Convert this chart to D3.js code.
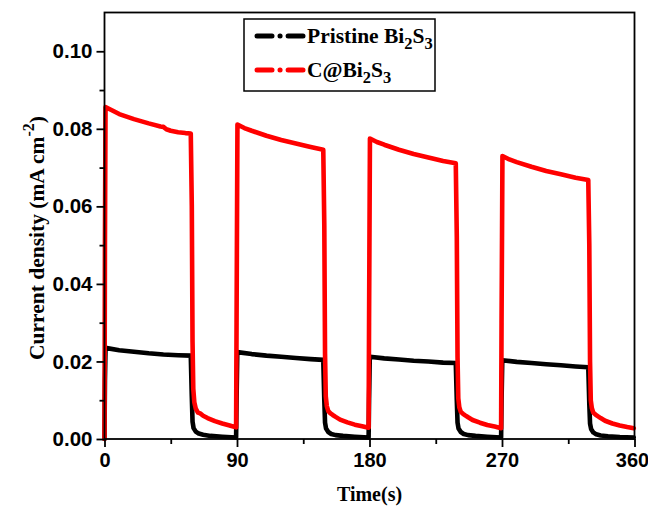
<!DOCTYPE html>
<html>
<head>
<meta charset="utf-8">
<script src="https://cdn.jsdelivr.net/npm/d3@7/dist/d3.min.js"></script>
<style>
  html, body { margin: 0; padding: 0; background: #fff; }
  svg { display: block; font-family: "Liberation Serif", "Times New Roman", serif; font-weight: bold; }
</style>
</head>
<body>
<svg id="chart" width="648" height="506"></svg>
<script>
// Photocurrent response, light on/off cycles (60 s on, 30 s off)
const seriesNames = ["Pristine Bi2S3", "C@Bi2S3"];
const seriesColors = ["#000000", "#ff0000"];

const xTicks = [0, 90, 180, 270, 360];
const yTicks = [0.00, 0.02, 0.04, 0.06, 0.08, 0.10];

// time (s)
const pristineTime = [
  0, 0.3, 0.7, 10, 20, 30, 40, 50, 58.6, 59.3, 59.8, 60.5, 62, 64, 67, 72, 80, 89.4,
  89.7, 90.2, 100, 110, 120, 130, 140, 148.6, 149.3, 149.8, 150.5, 152, 154, 157, 162, 170, 179.4,
  179.7, 180.2, 190, 200, 210, 220, 230, 238.6, 239.3, 239.8, 240.5, 242, 244, 247, 252, 260, 269.4,
  269.7, 270.2, 280, 290, 300, 310, 320, 328.6, 329.3, 329.8, 330.5, 332, 334, 337, 342, 350, 359.5
];
// current density (mA cm^-2)
const pristineValue = [
  0, 0.015, 0.0235, 0.0229, 0.0225, 0.0221, 0.0218, 0.0216, 0.0215, 0.011, 0.0045, 0.0028, 0.0019, 0.0014, 0.0011, 0.0008, 0.0006, 0.0004,
  0.010, 0.0224, 0.0219, 0.0215, 0.0212, 0.0209, 0.0206, 0.0204, 0.010, 0.0042, 0.0027, 0.0018, 0.0013, 0.0010, 0.0008, 0.0006, 0.0004,
  0.010, 0.0212, 0.0208, 0.0205, 0.0202, 0.0200, 0.0197, 0.0196, 0.010, 0.0042, 0.0027, 0.0018, 0.0013, 0.0010, 0.0008, 0.0006, 0.0004,
  0.010, 0.0203, 0.0199, 0.0196, 0.0193, 0.0190, 0.0187, 0.0185, 0.009, 0.0040, 0.0026, 0.0017, 0.0012, 0.0009, 0.0007, 0.0005, 0.0004
];

const carbonTime = [
  0, 0.3, 0.7, 5, 10, 20, 30, 38, 40, 42, 45, 50, 55, 58.6, 59.3, 59.8, 60.3, 61, 62, 63.5, 65, 67, 70, 75, 80, 85, 89.4,
  89.7, 90.3, 95, 100, 110, 120, 130, 140, 148.6, 149.3, 149.8, 150.3, 151, 152, 153.5, 155, 157, 160, 165, 170, 175, 179.4,
  179.7, 180.3, 185, 190, 200, 210, 220, 230, 238.6, 239.3, 239.8, 240.3, 241, 242, 243.5, 245, 247, 250, 255, 260, 265, 269.4,
  269.7, 270.3, 275, 280, 290, 300, 310, 320, 328.6, 329.3, 329.8, 330.3, 331, 332, 333.5, 335, 337, 340, 345, 350, 355, 359.5
];
const carbonValue = [
  0, 0.050, 0.0856, 0.0848, 0.0838, 0.0825, 0.0814, 0.0806, 0.0805, 0.0799, 0.0795, 0.0791, 0.0789, 0.0788, 0.060, 0.025, 0.0130, 0.0095, 0.0078, 0.0068, 0.0066, 0.0060, 0.0054, 0.0046, 0.0040, 0.0035, 0.0030,
  0.030, 0.0811, 0.0802, 0.0795, 0.0782, 0.0771, 0.0762, 0.0753, 0.0746, 0.055, 0.022, 0.0110, 0.0085, 0.0072, 0.0066, 0.0062, 0.0057, 0.0050, 0.0043, 0.0037, 0.0033, 0.0029,
  0.030, 0.0775, 0.0766, 0.0759, 0.0746, 0.0735, 0.0726, 0.0717, 0.0711, 0.052, 0.021, 0.0105, 0.0082, 0.0070, 0.0065, 0.0061, 0.0056, 0.0049, 0.0042, 0.0036, 0.0032, 0.0028,
  0.030, 0.0730, 0.0721, 0.0714, 0.0702, 0.0691, 0.0683, 0.0674, 0.0668, 0.050, 0.020, 0.0100, 0.0080, 0.0068, 0.0063, 0.0059, 0.0054, 0.0047, 0.0040, 0.0035, 0.0031, 0.0028
];

const svg = d3.select("#chart");
const margin = { left: 104.5, right: 634.5, top: 12.5, bottom: 439 };

const x = d3.scaleLinear().domain([0, 360]).range([margin.left, margin.right]);
const y = d3.scaleLinear().domain([0, 0.11]).range([margin.bottom, margin.top]);

// data traces
const line = d3.line().x(d => x(d[0])).y(d => y(d[1]));
const traces = [
  d3.zip(pristineTime, pristineValue),
  d3.zip(carbonTime, carbonValue)
];
svg.append("g").selectAll("path").data(traces).join("path")
  .attr("d", line)
  .attr("fill", "none")
  .attr("stroke", (d, i) => seriesColors[i])
  .attr("stroke-width", 4.6)
  .attr("stroke-linejoin", "round")
  .attr("stroke-linecap", "round");

// frame
svg.append("rect")
  .attr("x", margin.left).attr("y", margin.top)
  .attr("width", margin.right - margin.left).attr("height", margin.bottom - margin.top)
  .attr("fill", "none").attr("stroke", "#000").attr("stroke-width", 1.8);

// x axis
const xAxis = svg.append("g").attr("transform", `translate(0,${margin.bottom})`);
xAxis.call(d3.axisBottom(x).tickValues(d3.range(45, 360, 90)).tickSize(5).tickFormat(""))
  .call(g => g.select(".domain").remove());
xAxis.append("g").call(d3.axisBottom(x).tickValues(xTicks).tickSize(8).tickPadding(6).tickFormat(d3.format("d")))
  .call(g => g.select(".domain").remove());
xAxis.selectAll("line").attr("stroke-width", 1.8);
xAxis.selectAll("text").attr("font-size", 20).attr("font-family", null).attr("fill", "#000")
  .filter(d => d === 360).attr("dx", -2.5);   // keep the last label inside the page

// y axis
const yAxis = svg.append("g").attr("transform", `translate(${margin.left},0)`);
yAxis.call(d3.axisLeft(y).tickValues([0.01, 0.03, 0.05, 0.07, 0.09]).tickSize(5).tickFormat(""))
  .call(g => g.select(".domain").remove());
yAxis.append("g").call(d3.axisLeft(y).tickValues(yTicks).tickSize(8).tickPadding(4).tickFormat(d3.format(".2f")))
  .call(g => g.select(".domain").remove());
yAxis.selectAll("line").attr("stroke-width", 1.8);
yAxis.selectAll("text").attr("font-size", 20.5).attr("font-family", null).attr("fill", "#000");

// axis titles
svg.append("text")
  .attr("x", (margin.left + margin.right) / 2).attr("y", 501)
  .attr("text-anchor", "middle").attr("font-size", 20)
  .text("Time(s)");

const yTitle = svg.append("text")
  .attr("transform", "translate(44,238) rotate(-90)")
  .attr("text-anchor", "middle").attr("font-size", 21.5);
yTitle.append("tspan").text("Current density (mA cm");
yTitle.append("tspan").attr("dy", -10).attr("font-size", 16).text("-2");
yTitle.append("tspan").attr("dy", 10).text(")");

// legend
const legend = svg.append("g");
legend.append("rect")
  .attr("x", 244).attr("y", 19).attr("width", 191).attr("height", 72)
  .attr("fill", "#fff").attr("stroke", "#000").attr("stroke-width", 1.5);
const legendRows = [36, 70];
seriesNames.forEach((name, i) => {
  const yy = legendRows[i];
  legend.append("path")
    .attr("d", `M257,${yy}H303`)
    .attr("stroke", seriesColors[i]).attr("stroke-width", 5)
    .attr("stroke-linecap", "round")
    .attr("stroke-dasharray", "15 8 0.1 8 15");
  const t = legend.append("text").attr("x", 307).attr("y", yy + 7).attr("font-size", 21.5);
  const m = name.match(/^(.*Bi)2S3$/);
  t.append("tspan").text(m[1]);
  t.append("tspan").attr("dy", 6).attr("font-size", 16.5).text("2");
  t.append("tspan").attr("dy", -6).text("S");
  t.append("tspan").attr("dy", 6).attr("font-size", 16.5).text("3");
});
</script>
</body>
</html>
